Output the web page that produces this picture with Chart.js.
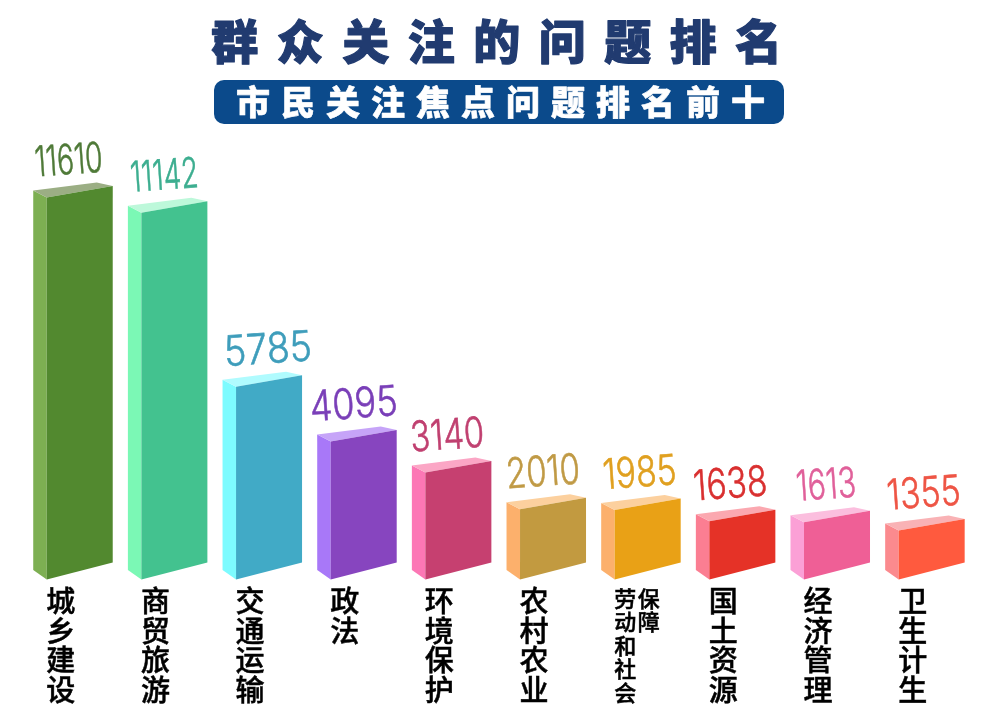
<!DOCTYPE html>
<html>
<head>
<meta charset="utf-8">
<title>群众关注的问题排名</title>
<script src="https://cdn.jsdelivr.net/npm/chart.js@4"></script>
<style>
  html, body { margin: 0; padding: 0; background: #fff; }
  #box { width: 1000px; height: 718px; position: relative; }
</style>
</head>
<body>
<div id="box"><canvas id="myChart"></canvas></div>
<script>
const titulo = "群众关注的问题排名";
const subtitulo = "市民关注焦点问题排名前十";

// Etiquetas en vertical, una fila por caracter
const categorias = [
  ["城", "乡", "建", "设"],
  ["商", "贸", "旅", "游"],
  ["交", "通", "运", "输"],
  ["政", "法"],
  ["环", "境", "保", "护"],
  ["农", "村", "农", "业"],
  ["\u2002\u2005劳\u200a保", "\u2002\u2005动\u200a障", "\u2002\u2005和\u200a\u3000", "\u2002\u2005社\u200a\u3000", "\u2002\u2005会\u200a\u3000"],
  ["国", "土", "资", "源"],
  ["经", "济", "管", "理"],
  ["卫", "生", "计", "生"],
];
const valores = [11610, 11142, 5785, 4095, 3140, 2010, 1985, 1638, 1613, 1355];

const colorFrente = ["#52892f", "#43c28f", "#41aac6", "#8745bf", "#c64070", "#c29a40", "#e9a116", "#e53227", "#ef5f96", "#ff5a3e"];
const colorLado = ["#7daf52", "#7bf8b5", "#7dfbff", "#a878f8", "#fc77b5", "#fcb06c", "#fcb06c", "#fb7e92", "#fba0d6", "#fb8a8e"];
const colorTapa = ["#9bae84", "#bdf8da", "#b0fbfe", "#c6a4f8", "#fba6c5", "#fcd09e", "#fcd09e", "#fba8b0", "#fbbede", "#f9b2b5"];
const colorValor = ["#4f7a38", "#3dae90", "#3e9dbb", "#7a3fb8", "#c04070", "#c09a45", "#e0a020", "#d93030", "#e0609a", "#ee5545"];
const ajusteValor = [-11, -10, -1, -10, -11, -10, -8, -12, -11, -8];

const fuenteCJK = '"Noto Sans CJK SC", "Noto Sans", sans-serif';

function poligono(ctx, puntos, color) {
  ctx.fillStyle = color;
  ctx.beginPath();
  puntos.forEach((p, i) => (i ? ctx.lineTo(p[0], p[1]) : ctx.moveTo(p[0], p[1])));
  ctx.closePath();
  ctx.fill();
}

// Dibuja cada barra como bloque 3D a partir del elemento que calcula Chart.js
const barras3D = {
  id: "barras3D",
  beforeDatasetDraw(chart, args) {
    const ctx = chart.ctx;
    args.meta.data.forEach((bar, i) => {
      const izq = bar.x - bar.width / 2;
      const der = bar.x + bar.width / 2;
      const ext = izq - 13.5;
      poligono(ctx, [[ext, bar.y - 7], [izq, bar.y], [izq, bar.base], [ext, bar.base - 9.5]], colorLado[i]);
      poligono(ctx, [[ext, bar.y - 7], [izq, bar.y], [der, bar.y - 11.5], [der - 16, bar.y - 15]], colorTapa[i]);
      poligono(ctx, [[izq, bar.y], [der, bar.y - 11.5], [der, bar.base - 17], [izq, bar.base]], colorFrente[i]);
    });
    return false;
  },
  afterDatasetsDraw(chart) {
    const ctx = chart.ctx;
    chart.getDatasetMeta(0).data.forEach((bar, i) => {
      const txt = String(valores[i]);
      ctx.save();
      ctx.font = "300 42px Inter, sans-serif";
      ctx.fillStyle = colorValor[i];
      ctx.strokeStyle = colorValor[i];
      ctx.lineWidth = 0.6;
      ctx.textAlign = "center";
      ctx.textBaseline = "middle";
      ctx.translate(bar.x + ajusteValor[i], bar.y - 36);
      ctx.rotate((-4 * Math.PI) / 180);
      // el "1" del original es muy estrecho
      let ancho = 0;
      for (const c of txt) ancho += c === "1" ? 8 : 22;
      ctx.scale(ancho / ctx.measureText(txt).width, 1);
      ctx.fillText(txt, 0, 0);
      ctx.strokeText(txt, 0, 0);
      ctx.restore();
    });
  },
  afterDraw(chart) {
    const ctx = chart.ctx;
    ctx.save();
    ctx.textAlign = "center";
    ctx.textBaseline = "middle";
    ctx.lineJoin = "round";
    ctx.font = "900 47px " + fuenteCJK;
    ctx.letterSpacing = "18.5px";
    ctx.fillStyle = "#213b70";
    ctx.strokeStyle = "#213b70";
    ctx.lineWidth = 1.2;
    ctx.fillText(titulo, 506, 41);
    ctx.strokeText(titulo, 506, 41);
    ctx.fillStyle = "#0b4a8b";
    ctx.beginPath();
    ctx.roundRect(214, 80, 570, 44, 10);
    ctx.fill();
    ctx.font = "900 34px " + fuenteCJK;
    ctx.letterSpacing = "11px";
    ctx.fillStyle = "#ffffff";
    ctx.strokeStyle = "#ffffff";
    ctx.lineWidth = 0.6;
    ctx.fillText(subtitulo, 506, 102);
    ctx.strokeText(subtitulo, 506, 102);
    ctx.restore();
  },
};

const ctx = document.getElementById("myChart").getContext("2d");
let myChart = new Chart(ctx, {
  type: "bar",
  data: {
    labels: categorias,
    datasets: [
      {
        data: valores,
        base: -154,
        backgroundColor: colorFrente,
        barThickness: 66,
      },
    ],
  },
  options: {
    responsive: true,
    maintainAspectRatio: false,
    animation: false,
    layout: { padding: { left: 32.4, right: 21, top: 184.9, bottom: 0 } },
    plugins: { legend: { display: false }, tooltip: { enabled: false } },
    scales: {
      y: { display: false, min: -154, max: 12000 },
      x: {
        afterFit: (scale) => {
          scale.height = 138.5;
        },
        grid: { display: false, drawTicks: false },
        border: { display: false },
        ticks: {
          color: "#000",
          autoSkip: false,
          maxRotation: 0,
          padding: 7,
          labelOffset: -19,
          textStrokeColor: "#000",
          textStrokeWidth: 0.5,
          font: (c) =>
            c.index === 6
              ? { family: fuenteCJK, size: 22, weight: "500", lineHeight: 1.07 }
              : { family: fuenteCJK, size: 29, weight: "500", lineHeight: 1.017 },
        },
      },
    },
  },
  plugins: [barras3D],
});
</script>
</body>
</html>
